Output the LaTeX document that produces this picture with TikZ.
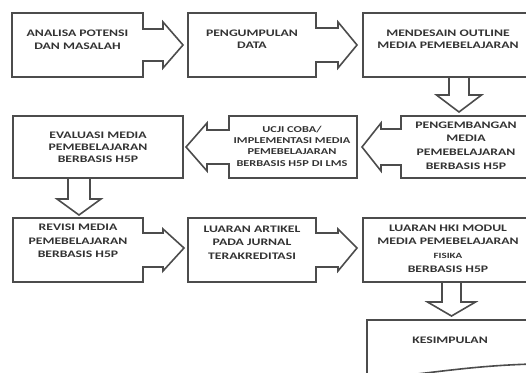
\documentclass[tikz,border=0pt]{standalone}
\usepackage{fontspec}
\newfontfamily\flowfont{Carlito}[FakeStretch=1.37]
\usepackage{tikz}
\usetikzlibrary{calc,positioning}

\begin{document}
\begin{tikzpicture}[x=1pt, y=-1pt,
  frame/.style={inner sep=0pt, outer sep=0pt},
  txt/.style={align=center, inner sep=0pt, text=black!80,
    font=\flowfont\bfseries\fontsize{10}{12.5}\selectfont},
  outline/.style={draw=black!70, line width=1.6pt, line join=miter}]

  % Page frame: the right column runs off the edge
  \useasboundingbox (0,0) rectangle (526,372);
  \clip (0,0) rectangle (526,372);

  % Boxes, row by row
  \node[frame, minimum width=131pt, minimum height=64pt] (analisa) at (77.5,45) {};
  \node[frame, minimum width=128pt, minimum height=64pt] (pengumpulan) at (252,45) {};
  \node[frame, minimum width=170pt, minimum height=64pt] (mendesain) at (448,45) {};

  \node[frame, minimum width=170pt, minimum height=62pt] (evaluasi) at (98,147) {};
  \node[frame, minimum width=128pt, minimum height=62pt] (ujicoba) at (293,147) {};
  \node[frame, minimum width=132pt, minimum height=62pt] (pengembangan) at (467,147) {};

  \node[frame, minimum width=130pt, minimum height=64pt] (revisi) at (78,250) {};
  \node[frame, minimum width=128pt, minimum height=64pt] (artikel) at (252,250) {};
  \node[frame, minimum width=170pt, minimum height=64pt] (hki) at (448,250) {};

  \node[frame, minimum width=166pt, minimum height=58pt] (kesimpulan) at (450,349) {};

  % Labels
  \node[txt] (analisa-t) at ($(analisa)+(0,-5)$) {ANALISA POTENSI\\DAN MASALAH};
  \node[txt] (pengumpulan-t) at ($(pengumpulan)+(0,-6)$) {PENGUMPULAN\\DATA};
  \node[txt] (mendesain-t) at ($(mendesain)+(0,-5.5)$) {MENDESAIN OUTLINE\\MEDIA PEMEBELAJARAN};
  \node[txt, font=\flowfont\bfseries\fontsize{10}{13.6}\selectfont] (pengembangan-t)
    at ($(pengembangan)+(-1,-1.5)$) {PENGEMBANGAN\\MEDIA\\PEMEBELAJARAN\\BERBASIS H5P};
  \node[txt, font=\flowfont\bfseries\fontsize{9}{11.4}\selectfont] (ujicoba-t)
    at ($(ujicoba)+(-1,-1)$) {UCJI COBA/\\IMPLEMENTASI MEDIA\\PEMEBELAJARAN\\BERBASIS H5P DI LMS};
  \node[txt, font=\flowfont\bfseries\fontsize{10}{12}\selectfont] (evaluasi-t)
    at (evaluasi) {EVALUASI MEDIA\\PEMEBELAJARAN\\BERBASIS H5P};
  \node[txt, font=\flowfont\bfseries\fontsize{10}{13.5}\selectfont] (revisi-t)
    at ($(revisi)+(0,-9)$) {REVISI MEDIA\\PEMEBELAJARAN\\BERBASIS H5P};
  \node[txt, font=\flowfont\bfseries\fontsize{10}{13.5}\selectfont] (artikel-t)
    at ($(artikel)+(0,-7.5)$) {LUARAN ARTIKEL\\PADA JURNAL\\TERAKREDITASI};
  \node[txt, font=\flowfont\bfseries\fontsize{10}{13.6}\selectfont] (hki-t)
    at ($(hki)+(0,-1.5)$) {LUARAN HKI MODUL\\MEDIA PEMEBELAJARAN\\{\fontsize{8}{13.6}\selectfont FISIKA}\\BERBASIS H5P};
  \node[txt] (kesimpulan-t) at ($(kesimpulan.north)+(0,20)$) {KESIMPULAN};

  % Row 1: boxes with arrows pointing right
  \draw[outline] (analisa.north west) -- (analisa.north east) -- ($(analisa.east)+(0,-16)$) -- ++(20,0) -- ++(0,-7)
    -- ($(pengumpulan.west)+(-5,0)$) -- ($(analisa.east)+(20,23)$) -- ++(0,-7) -- ($(analisa.east)+(0,16)$)
    -- (analisa.south east) -- (analisa.south west) -- cycle;
  \draw[outline] (pengumpulan.north west) -- (pengumpulan.north east) -- ($(pengumpulan.east)+(0,-17)$) -- ++(22,0) -- ++(0,-6)
    -- ($(mendesain.west)+(-6,0)$) -- ($(pengumpulan.east)+(22,23)$) -- ++(0,-6) -- ($(pengumpulan.east)+(0,17)$)
    -- (pengumpulan.south east) -- (pengumpulan.south west) -- cycle;
  \draw[outline] (mendesain.north west) -- (mendesain.north east) -- (mendesain.south east)
    -- (mendesain.south west) -- cycle;

  % Down: outline -> development
  \draw[outline] ($(mendesain.south)+(1,0)$) -- ++(0,18) -- ++(-12.5,0)
    -- ($(pengembangan.north)+(-8,-4)$) -- ++(22.5,-17) -- ++(-12.5,0) -- ++(0,-18);

  % Row 2: boxes with arrows pointing left
  \draw[outline] (pengembangan.north east) -- (pengembangan.north west) -- ($(pengembangan.west)+(0,-18)$) -- ++(-20,0) -- ++(0,-6)
    -- ($(ujicoba.east)+(5,0)$) -- ($(pengembangan.west)+(-20,24)$) -- ++(0,-6) -- ($(pengembangan.west)+(0,18)$)
    -- (pengembangan.south west) -- (pengembangan.south east) -- cycle;
  \draw[outline] (ujicoba.north east) -- (ujicoba.north west) -- ($(ujicoba.west)+(0,-17)$) -- ++(-22,0) -- ++(0,-7)
    -- ($(evaluasi.east)+(3,0)$) -- ($(ujicoba.west)+(-22,24)$) -- ++(0,-7) -- ($(ujicoba.west)+(0,17)$)
    -- (ujicoba.south west) -- (ujicoba.south east) -- cycle;
  \draw[outline] (evaluasi.north west) -- (evaluasi.north east) -- (evaluasi.south east)
    -- (evaluasi.south west) -- cycle;

  % Down: evaluation -> revision
  \draw[outline] ($(evaluasi.south)+(-30,0)$) -- ++(0,21) -- ++(-11,0)
    -- ($(revisi.north)+(1,-3)$) -- ++(22,-16) -- ++(-11,0) -- ++(0,-21);

  % Row 3: boxes with arrows pointing right
  \draw[outline] (revisi.north west) -- (revisi.north east) -- ($(revisi.east)+(0,-17)$) -- ++(20,0) -- ++(0,-4)
    -- ($(artikel.west)+(-4,-2)$) -- ($(revisi.east)+(20,21)$) -- ++(0,-4) -- ($(revisi.east)+(0,17)$)
    -- (revisi.south east) -- (revisi.south west) -- cycle;
  \draw[outline] (artikel.north west) -- (artikel.north east) -- ($(artikel.east)+(0,-17)$) -- ++(22,0) -- ++(0,-4)
    -- ($(hki.west)+(-6,-2)$) -- ($(artikel.east)+(22,21)$) -- ++(0,-4) -- ($(artikel.east)+(0,17)$)
    -- (artikel.south east) -- (artikel.south west) -- cycle;
  \draw[outline] (hki.north west) -- (hki.north east) -- (hki.south east)
    -- (hki.south west) -- cycle;

  % Down: module -> conclusion
  \draw[outline] ($(hki.south)+(-6,0)$) -- ++(0,20) -- ++(-14.5,0)
    -- ($(kesimpulan.north)+(1.5,-4)$) -- ++(24,-14) -- ++(-14.5,0) -- ++(0,-20);

  % Conclusion as a document shape with a wavy foot
  \draw[outline] (kesimpulan.south west) -- (kesimpulan.north west) -- (kesimpulan.north east)
    -- ($(kesimpulan.south east)+(0,-14)$)
    .. controls ($(kesimpulan.south east)+(-73,-12)$) and ($(kesimpulan.south west)+(53,-2)$) .. (kesimpulan.south west);
\end{tikzpicture}
\end{document}
